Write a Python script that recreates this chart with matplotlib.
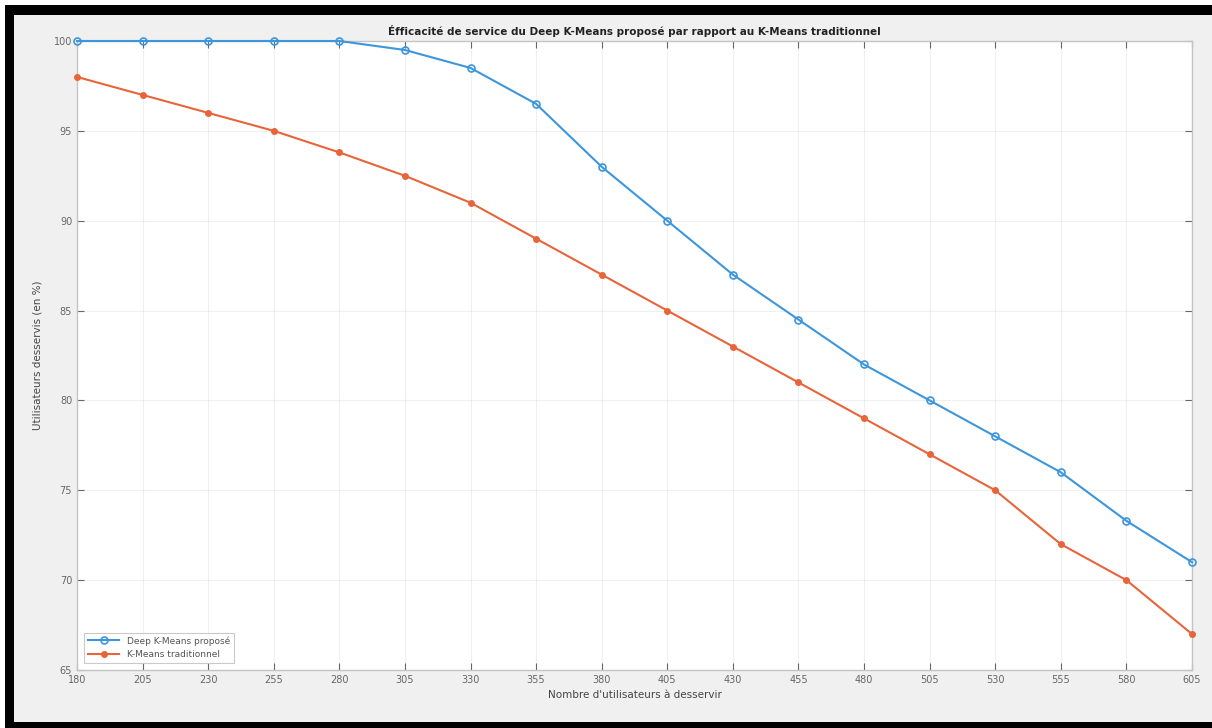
import matplotlib
matplotlib.use("Agg")
import matplotlib.pyplot as plt
from matplotlib.patches import Rectangle

users = [180, 205, 230, 255, 280, 305, 330, 355, 380, 405, 430, 455, 480, 505, 530, 555, 580, 605]
deep_kmeans = [100, 100, 100, 100, 100, 99.5, 98.5, 96.5, 93, 90, 87, 84.5, 82, 80, 78, 76, 73.3, 71]
kmeans_trad = [98, 97, 96, 95, 93.8, 92.5, 91, 89, 87, 85, 83, 81, 79, 77, 75, 72, 70, 67]
yticks = [65, 70, 75, 80, 85, 90, 95, 100]

plt.rcParams['font.family'] = ['DejaVu Sans']
fig = plt.figure(figsize=(12.12, 7.28), dpi=100, facecolor='white')
# photo-like frame
fig.patches.append(Rectangle((5/1212, 0), 1 - 5/1212, 1 - 5/728, transform=fig.transFigure,
                             facecolor='black', edgecolor='none', zorder=-2))
fig.patches.append(Rectangle((14/1212, 6/728), 1 - 14/1212, 1 - 21/728, transform=fig.transFigure,
                             facecolor='#f0f0f0', edgecolor='none', zorder=-1))

ax = fig.add_axes([77/1212, 1 - 670/728, (1192 - 77)/1212, (670 - 41)/728])
ax.set_facecolor('white')
ax.plot(users, deep_kmeans, color='#3d96dc', marker='o', markersize=5, markerfacecolor='none',
        markeredgewidth=1.2, linewidth=1.5, label='Deep K-Means proposé', clip_on=False, zorder=3)
ax.plot(users, kmeans_trad, color='#e8643a', marker='.', markersize=8, linewidth=1.5,
        label='K-Means traditionnel', clip_on=False, zorder=3)

ax.set_xlim(180, 605)
ax.set_ylim(65, 100)
ax.set_xticks(users)
ax.set_yticks(yticks)
ax.grid(True, color='#000000', alpha=0.06, linewidth=0.8)
ax.tick_params(direction='in', length=5, labelsize=7, colors='#666666', top=True, right=True)
for s in ax.spines.values():
    s.set_color('#c4c4c4')
    s.set_linewidth(1.0)

ax.set_title('Éfficacité de service du Deep K-Means proposé par rapport au K-Means traditionnel',
             fontsize=7.5, fontweight='bold', color='#222222', pad=4)
ax.set_xlabel("Nombre d'utilisateurs à desservir", fontsize=7.5, color='#444444', labelpad=4)
ax.set_ylabel('Utilisateurs desservis (en %)', fontsize=7.5, color='#444444', labelpad=8)

leg = ax.legend(loc='lower left', fontsize=6.5, frameon=True, fancybox=False,
                borderaxespad=0.8, handlelength=3.5, edgecolor='#bdbdbd')
leg.get_frame().set_linewidth(0.8)
for t in leg.get_texts():
    t.set_color('#555555')

fig.savefig('out.png', dpi=100, facecolor=fig.get_facecolor())
